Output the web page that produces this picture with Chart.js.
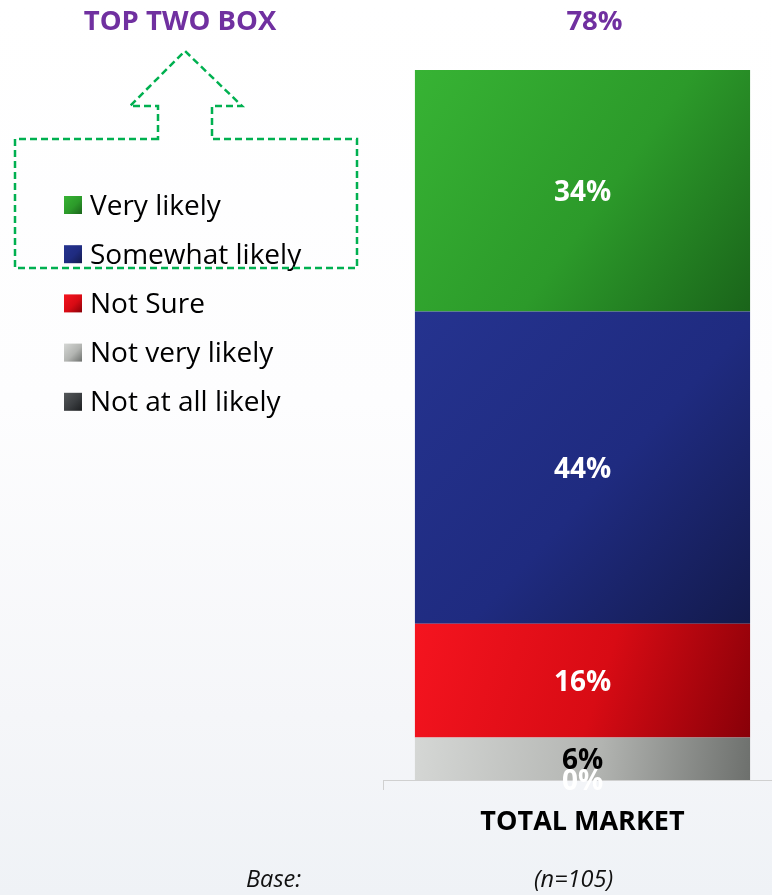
<!DOCTYPE html>
<html>
<head>
<meta charset="utf-8">
<title>Likelihood - Total Market</title>
<script src="https://cdn.jsdelivr.net/npm/chart.js@4.4.1/dist/chart.umd.min.js"></script>
<style>
  html, body {
    margin: 0;
    padding: 0;
    overflow: hidden;
    background: linear-gradient(to bottom, #ffffff 0%, #fdfdfe 45%, #f5f6f9 80%, #eff2f6 100%);
  }
  #wrap { width: 772px; height: 895px; overflow: hidden; position: relative; }
  canvas { display: block; }
</style>
</head>
<body>
<div id="wrap"><canvas id="myChart" width="782" height="895"></canvas></div>
<script>
// Chart data
const categories = ['TOTAL MARKET'];
const seriesNames = ['Very likely', 'Somewhat likely', 'Not Sure', 'Not very likely', 'Not at all likely'];
const veryLikely = [34];
const somewhatLikely = [44];
const notSure = [16];
const notVeryLikely = [6];
const notAtAllLikely = [0];
const baseSizes = ['(n=105)'];
const seriesValues = [veryLikely, somewhatLikely, notSure, notVeryLikely, notAtAllLikely];

// gradient stops (light, mid, dark) for each series
const seriesShades = [
    ['#37b334', '#2c9a2a', '#1a641a'],
    ['#25338f', '#1f2b80', '#131a4c'],
    ['#f5141f', '#d80b14', '#880008'],
    ['#d5d7d5', '#b2b4b1', '#6d706d'],
    ['#55585b', '#3a3d40', '#1c1e20']
];
const labelColors = ['#ffffff', '#ffffff', '#ffffff', '#000000', '#ffffff'];
const barPct = 0.84;
const fontFamily = '"Open Sans", sans-serif';

let ctx;

function diagGradient(c, x0, y0, x1, y1, stops) {
    const g = c.createLinearGradient(x0, y0, x1, y1);
    g.addColorStop(0, stops[0]);
    g.addColorStop(0.55, stops[1]);
    g.addColorStop(1, stops[2]);
    return g;
}

// stacked bounds of a series: later series sit lower in the bar
function segmentBounds(k, i) {
    let lo = 0;
    for (let j = k + 1; j < seriesValues.length; j++) lo += seriesValues[j][i];
    return [lo, lo + seriesValues[k][i]];
}

function barFill(k) {
    return (context) => {
        const chart = context.chart;
        if (!chart.chartArea) return seriesShades[k][1];
        const xs = chart.scales.x, ys = chart.scales.y;
        const i = context.dataIndex;
        const [lo, hi] = segmentBounds(k, i);
        const cx = xs.getPixelForValue(i);
        const half = xs.width / categories.length * barPct / 2;
        return diagGradient(chart.ctx, cx - half, ys.getPixelForValue(hi), cx + half, ys.getPixelForValue(lo), seriesShades[k]);
    };
}

// value labels, header texts, legend and the dashed "top two" arrow
const decorations = {
    id: 'decorations',
    afterDatasetsDraw(chart) {
        const c = chart.ctx;
        const xs = chart.scales.x, ys = chart.scales.y;
        c.save();
        c.textAlign = 'center';
        c.textBaseline = 'middle';
        c.font = 'bold 28px ' + fontFamily;
        seriesValues.forEach((vals, k) => {
            vals.forEach((v, i) => {
                const [lo, hi] = segmentBounds(k, i);
                const y = (ys.getPixelForValue(lo) + ys.getPixelForValue(hi)) / 2;
                c.fillStyle = labelColors[k];
                c.fillText(v + '%', xs.getPixelForValue(i), y + 2);
            });
        });

        // header row
        c.fillStyle = '#7030a0';
        c.font = 'bold 27.5px ' + fontFamily;
        c.fillText('TOP TWO BOX', 180, 22);
        categories.forEach((cat, i) => {
            const top2 = veryLikely[i] + somewhatLikely[i];
            c.fillText(top2 + '%', xs.getPixelForValue(i) + 12, 22);
        });

        // base row
        c.fillStyle = '#111';
        c.font = 'italic 23.5px ' + fontFamily;
        c.textAlign = 'left';
        c.fillText('Base:', 246, 880);
        c.textAlign = 'center';
        baseSizes.forEach((b, i) => c.fillText(b, xs.getPixelForValue(i) - 9, 880));

        // legend
        c.textAlign = 'left';
        c.textBaseline = 'alphabetic';
        c.font = '28px ' + fontFamily;
        seriesNames.forEach((name, k) => {
            const y = 205 + k * 49.2;
            c.fillStyle = diagGradient(c, 64, y - 9, 82, y + 9, seriesShades[k]);
            c.fillRect(64, y - 9, 18, 18);
            c.fillStyle = '#000';
            c.fillText(name, 90, y + 9.5);
        });

        // dashed arrow around the top two entries
        c.strokeStyle = '#00b050';
        c.lineWidth = 2.5;
        c.setLineDash([7, 4]);
        c.beginPath();
        c.moveTo(158, 139);
        c.lineTo(15, 139);
        c.lineTo(15, 268);
        c.lineTo(357, 268);
        c.lineTo(357, 139);
        c.lineTo(212, 139);
        c.lineTo(212, 106);
        c.lineTo(242, 106);
        c.lineTo(185, 51);
        c.lineTo(130, 106);
        c.lineTo(158, 106);
        c.closePath();
        c.stroke();
        c.restore();
    }
};

function initChart() {
    ctx = document.getElementById('myChart');
    if (!ctx) {
        console.error('Canvas element not found');
        return;
    }

    // bottom-most segment first in the stack
    const datasets = seriesNames.map((name, k) => ({
        label: name,
        data: seriesValues[k],
        backgroundColor: barFill(k),
        borderWidth: 0,
        barPercentage: barPct,
        categoryPercentage: 1
    })).reverse();

    new Chart(ctx, {
        type: 'bar',
        data: { labels: categories, datasets: datasets },
        options: {
            responsive: false,
            animation: false,
            devicePixelRatio: 1,
            layout: { padding: { left: 383, top: 70, right: 0, bottom: 0 } },
            scales: {
                x: {
                    stacked: true,
                    offset: true,
                    grid: { display: true, drawOnChartArea: false, offset: true, tickLength: 10, color: '#d0d0d0' },
                    border: { display: true, color: '#d0d0d0', width: 1 },
                    ticks: {
                        color: '#000',
                        padding: 16,
                        maxRotation: 0,
                        font: { family: fontFamily, size: 27, weight: 'bold' }
                    },
                    afterFit: (scale) => { scale.height = 115; }
                },
                y: { stacked: true, display: false, min: 0, max: 100 }
            },
            plugins: {
                legend: { display: false },
                tooltip: { enabled: false }
            }
        },
        plugins: [decorations]
    });
}

document.addEventListener('DOMContentLoaded', initChart);
</script>
</body>
</html>
